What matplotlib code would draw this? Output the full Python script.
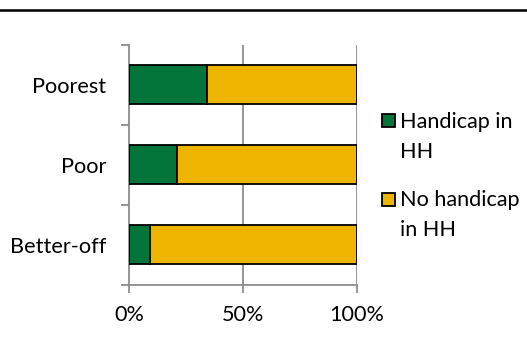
import matplotlib.pyplot as plt
from matplotlib.patches import Rectangle
from matplotlib.lines import Line2D

plt.rcParams['font.family'] = ['Lato', 'DejaVu Sans']

# Household groups, bottom to top as drawn
groups = ['Better-off', 'Poor', 'Poorest']
handicap = [0.09, 0.21, 0.34]
no_handicap = [0.91, 0.79, 0.66]
x_ticks = [0, 0.5, 1.0]
x_labels = ['0%', '50%', '100%']
series_names = ['Handicap in\nHH', 'No handicap\nin HH']

green = '#04753a'
yellow = '#edb500'
gray = '#8c8c8c'
fs = 15.6

W, H = 527, 342
fig = plt.figure(figsize=(W / 100, H / 100), dpi=100)
ax = fig.add_axes([129 / W, 1 - 284.5 / H, 228 / W, 239.5 / H])

pos = range(len(groups))
ax.barh(pos, handicap, height=0.49, color=green, edgecolor='black', linewidth=1.3, zorder=3)
ax.barh(pos, no_handicap, left=handicap, height=0.49, color=yellow,
        edgecolor='black', linewidth=1.3, zorder=3)

ax.set_xlim(0, 1.0)
ax.set_ylim(-0.5, 2.5)

# vertical gridlines at 50% and 100%
for xv in x_ticks[1:]:
    ax.axvline(xv, color=gray, linewidth=1.3, zorder=1)

ax.set_xticks(x_ticks)
ax.set_xticklabels(x_labels, fontsize=fs)
ax.tick_params(axis='x', length=6, width=1.3, color=gray, pad=9)

# category boundary ticks on the left, labels between them
ax.set_yticks([-0.5, 0.5, 1.5, 2.5])
ax.set_yticklabels([])
ax.set_yticks(list(pos), minor=True)
ax.set_yticklabels(groups, minor=True, fontsize=fs)
ax.tick_params(axis='y', which='major', length=6, width=1.3, color=gray)
ax.tick_params(axis='y', which='minor', length=0, pad=16.5)

for side in ['top', 'right']:
    ax.spines[side].set_visible(False)
for side in ['left', 'bottom']:
    ax.spines[side].set_color(gray)
    ax.spines[side].set_linewidth(1.3)

# legend, drawn by hand so the swatch sits on the first text line
def fx(px):
    return px / W

def fy(py):
    return 1 - py / H

for col, name, top in [(green, series_names[0], 114), (yellow, series_names[1], 192)]:
    fig.add_artist(Rectangle((fx(381.5), fy(top + 13.5)), 13 / W, 13 / H,
                             transform=fig.transFigure, facecolor=col,
                             edgecolor='black', linewidth=1.3))
    for i, line in enumerate(name.split('\n')):
        fig.text(fx(400), fy(top + 14 + 30 * i), line, fontsize=fs,
                 va='baseline', ha='left')

# rule across the top
fig.add_artist(Line2D([0, 1], [fy(10), fy(10)], color='black', linewidth=1.8,
                      transform=fig.transFigure))

fig.savefig('out.png', dpi=100)
